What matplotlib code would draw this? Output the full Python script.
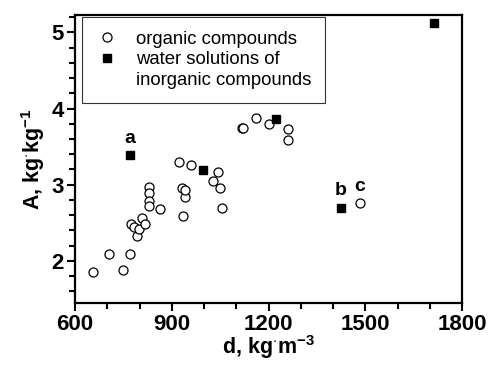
import matplotlib
matplotlib.use("Agg")
import matplotlib.pyplot as plt
from matplotlib.lines import Line2D
from matplotlib.ticker import MultipleLocator

plt.rcParams['font.family'] = ['Liberation Sans', 'DejaVu Sans']
plt.rcParams['mathtext.fontset'] = 'custom'
plt.rcParams['mathtext.rm'] = 'Liberation Sans'
plt.rcParams['mathtext.bf'] = 'Liberation Sans:bold'

# organic compounds (open circles)
organic_d = [654, 705, 749, 770, 773, 784, 791, 797, 808, 818,
             830, 830, 830, 830, 862, 922, 930, 934, 940, 942,
             960, 1028, 1044, 1050, 1055, 1117, 1121, 1161, 1200,
             1260, 1260, 1482]
organic_A = [1.85, 2.09, 1.88, 2.09, 2.48, 2.45, 2.32, 2.42, 2.56, 2.48,
             2.97, 2.89, 2.78, 2.72, 2.68, 3.30, 2.96, 2.59, 2.84, 2.93,
             3.26, 3.05, 3.17, 2.96, 2.70, 3.74, 3.75, 3.87, 3.80,
             3.73, 3.59, 2.76]

# water solutions of inorganic compounds (filled squares)
inorganic_d = [770, 998, 1222, 1424, 1713]
inorganic_A = [3.39, 3.19, 3.86, 2.70, 5.12]

labels = ["a", "b", "c"]
label_d = [770, 1424, 1482]
label_A = [3.39, 2.70, 2.76]

fig = plt.figure(figsize=(4.91, 3.71), dpi=100)
ax = fig.add_axes([0.153, 0.184, 0.788, 0.776])

h1, = ax.plot(organic_d, organic_A, "o", mfc="white", mec="black", mew=0.9,
              ms=6.5)
h2, = ax.plot(inorganic_d, inorganic_A, "s", color="black", ms=5.5)

for t, x, y in zip(labels, label_d, label_A):
    ax.annotate(t, (x, y), xytext=(0, 6), textcoords="offset points",
                ha="center", va="bottom", fontsize=14, fontweight="bold")

ax.set_xlim(600, 1800)
ax.set_ylim(1.45, 5.23)
ax.xaxis.set_major_locator(MultipleLocator(300))
ax.xaxis.set_minor_locator(MultipleLocator(100))
ax.yaxis.set_major_locator(MultipleLocator(1))
ax.yaxis.set_minor_locator(MultipleLocator(0.2))
ax.tick_params(which="major", direction="out", length=6, width=1.5,
               labelsize=16, pad=2)
ax.tick_params(which="minor", direction="out", length=4, width=1.5)
for lbl in ax.get_xticklabels() + ax.get_yticklabels():
    lbl.set_fontweight("bold")
for sp in ax.spines.values():
    sp.set_linewidth(1.6)

ax.set_xlabel(r"d, kg$^{\mathbf{\cdot}}$m$^{\mathbf{-3}}$", fontsize=15.5,
              fontweight="bold", labelpad=-1)
ax.set_ylabel(r"A, kg$^{\mathbf{\cdot}}$kg$^{\mathbf{-1}}$", fontsize=15.5,
              fontweight="bold", labelpad=3)

blank = Line2D([], [], linestyle="none", marker="none")
leg = ax.legend([h1, h2, blank],
                ["organic compounds", "water solutions of", "inorganic compounds"],
                loc="upper left", bbox_to_anchor=(0.017, 0.993),
                borderaxespad=0, fancybox=False, edgecolor="black",
                fontsize=13.3, handletextpad=0.95, labelspacing=0.2,
                borderpad=0.75, handlelength=1.25)
leg.get_frame().set_linewidth(0.8)

fig.savefig("out.png", dpi=100)
